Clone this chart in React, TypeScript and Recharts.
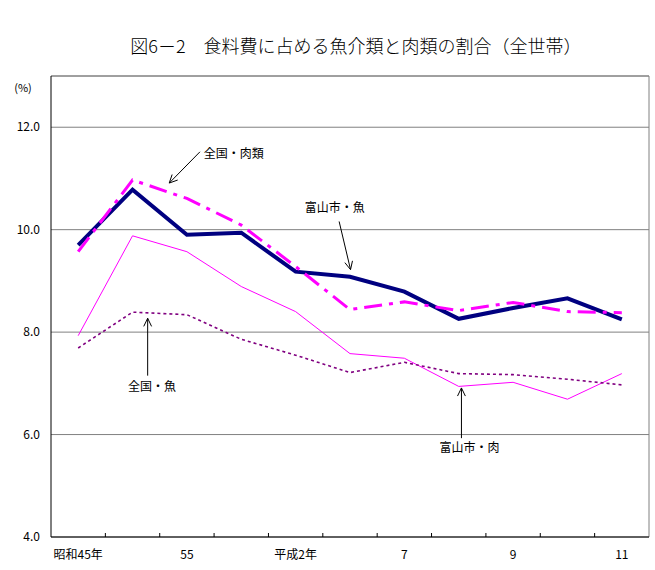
import React from 'react';
import { LineChart, Line, XAxis, YAxis, CartesianGrid, ReferenceLine, ReferenceDot } from 'recharts';

// x-axis category labels (unlabelled categories left blank, as in the source)
const xLabels = ['昭和45年', '', '55', '', '平成2年', '', '7', '', '9', '', '11'];

// series values (%)
const toyamaFish = [9.70, 10.78, 9.90, 9.94, 9.18, 9.08, 8.79, 8.26, 8.47, 8.66, 8.25];
const nationalMeat = [9.57, 10.97, 10.61, 10.09, 9.28, 8.44, 8.59, 8.42, 8.58, 8.40, 8.38];
const toyamaMeat = [7.93, 9.88, 9.57, 8.89, 8.40, 7.58, 7.49, 6.94, 7.02, 6.69, 7.19];
const nationalFish = [7.69, 8.39, 8.34, 7.86, 7.55, 7.21, 7.41, 7.19, 7.17, 7.08, 6.97];

const yTicks = [4, 6, 8, 10, 12];

// annotation labels (data coordinates)
const annoTexts = [
  { text: '全国・肉類', x: 3.36, y: 11.5 },
  { text: '富山市・魚', x: 5.22, y: 10.45 },
  { text: '全国・魚', x: 1.86, y: 6.95 },
  { text: '富山市・肉', x: 7.7, y: 5.76 },
];
const annoArrows = [
  { from: [2.74, 11.52], to: [2.175, 10.91] },
  { from: [5.30, 10.16], to: [5.51, 9.22] },
  { from: [1.778, 7.15], to: [1.778, 8.27] },
  { from: [7.55, 5.93], to: [7.55, 6.91] },
];

const data = xLabels.map((_, i) => ({
  x: i + 0.5,
  toyamaFish: toyamaFish[i],
  nationalMeat: nationalMeat[i],
  toyamaMeat: toyamaMeat[i],
  nationalFish: nationalFish[i],
}));

const xTicks: number[] = [];
for (let i = 0; i < xLabels.length; i++) {
  xTicks.push(i + 0.5);
  if (i + 1 < xLabels.length) xTicks.push(i + 1);
}

const FONT = "'Noto Sans CJK JP', 'Noto Sans', sans-serif";

const XTick = (props: any) => {
  const { x, y, payload } = props;
  const v = payload.value as number;
  if (Number.isInteger(v)) {
    return <line x1={x} x2={x} y1={y} y2={y - 4} stroke="#000" strokeWidth={1} />;
  }
  const label = xLabels[Math.floor(v)];
  return (
    <text x={x} y={y + 16} textAnchor="middle" dominantBaseline="central" fontSize={12} fontFamily={FONT} fill="#000">
      {label}
    </text>
  );
};

const arrowShape = (props: any) => {
  const { x1, y1, x2, y2 } = props;
  const ang = Math.atan2(y2 - y1, x2 - x1);
  const len = 9;
  const spread = 0.45;
  const a1 = ang + Math.PI - spread;
  const a2 = ang + Math.PI + spread;
  return (
    <g>
      <line x1={x1} y1={y1} x2={x2} y2={y2} stroke="#000" strokeWidth={1} />
      <line x1={x2} y1={y2} x2={x2 + len * Math.cos(a1)} y2={y2 + len * Math.sin(a1)} stroke="#000" strokeWidth={1} />
      <line x1={x2} y1={y2} x2={x2 + len * Math.cos(a2)} y2={y2 + len * Math.sin(a2)} stroke="#000" strokeWidth={1} />
    </g>
  );
};

const makeTextShape = (text: string) => (props: any) => (
  <text x={props.cx} y={props.cy} textAnchor="middle" dominantBaseline="central" fontSize={12} fontFamily={FONT} fill="#000">
    {text}
  </text>
);

export default function App() {
  return (
    <div style={{ position: 'absolute', left: 0, top: 0, width: 655, height: 570, background: '#fff' }}>
      <div
        style={{
          position: 'absolute',
          left: 0,
          top: 34,
          width: 712,
          textAlign: 'center',
          fontFamily: FONT,
          fontSize: 18,
          fontWeight: 300,
          lineHeight: '22px',
          color: '#000',
        }}
      >
        図6－2　食料費に占める魚介類と肉類の割合（全世帯）
      </div>
      <LineChart
        width={655}
        height={570}
        data={data}
        margin={{ top: 76, right: 6, bottom: 0, left: 0 }}
        style={{ position: 'absolute', left: 0, top: 0 }}
      >
        <CartesianGrid vertical={false} stroke="#808080" strokeWidth={1} />
        <ReferenceLine y={13} stroke="#808080" strokeWidth={1} />
        <ReferenceLine x={11} stroke="#808080" strokeWidth={1} />
        <XAxis
          dataKey="x"
          type="number"
          domain={[0, 11]}
          ticks={xTicks}
          interval={0}
          tickLine={false}
          tickSize={0}
          tickMargin={0}
          height={33}
          axisLine={{ stroke: '#000', strokeWidth: 1 }}
          tick={<XTick />}
        />
        <YAxis
          type="number"
          domain={[4, 13]}
          ticks={yTicks}
          interval={0}
          width={51}
          tickLine={false}
          tickSize={10}
          tickMargin={1}
          axisLine={{ stroke: '#000', strokeWidth: 1 }}
          tickFormatter={(v: number) => v.toFixed(1)}
          tick={{ fontSize: 12, fontFamily: FONT, fill: '#000' }}
          label={{
            content: (p: any) => (
              <text x={23} y={87} textAnchor="middle" dominantBaseline="central" fontSize={11} fontFamily={FONT} fill="#000">
                (%)
              </text>
            ),
          }}
        />
        <Line dataKey="toyamaMeat" stroke="#FF00FF" strokeWidth={1} dot={false} isAnimationActive={false} />
        <Line dataKey="nationalFish" stroke="#800080" strokeWidth={1.6} strokeDasharray="3 3" dot={false} isAnimationActive={false} />
        <Line dataKey="toyamaFish" stroke="#000080" strokeWidth={4} dot={false} isAnimationActive={false} />
        <Line dataKey="nationalMeat" stroke="#FF00FF" strokeWidth={3} strokeDasharray="18 7 4 7" dot={false} isAnimationActive={false} />
        {annoArrows.map((a, i) => (
          <ReferenceLine
            key={'arr' + i}
            segment={[
              { x: a.from[0], y: a.from[1] },
              { x: a.to[0], y: a.to[1] },
            ]}
            shape={arrowShape}
          />
        ))}
        {annoTexts.map((t, i) => (
          <ReferenceDot key={'txt' + i} x={t.x} y={t.y} r={1} shape={makeTextShape(t.text)} />
        ))}
      </LineChart>
    </div>
  );
}
